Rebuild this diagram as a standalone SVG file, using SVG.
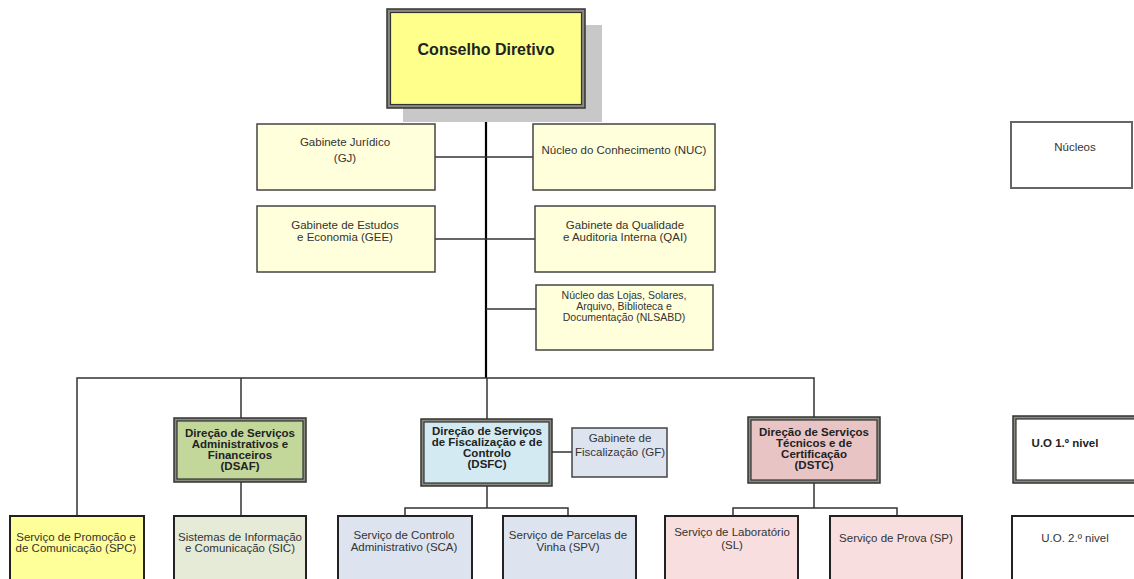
<svg xmlns="http://www.w3.org/2000/svg" width="1134" height="579" viewBox="0 0 1134 579">
<style>
text{font-family:"Liberation Sans",Arial,sans-serif;font-size:11.5px;fill:#333;text-anchor:middle}
.b{font-weight:bold;fill:#222}
.t{font-size:16px}
.s{font-size:10.5px}
.box{stroke:#444;stroke-width:1.5}
.bot{stroke:#222;stroke-width:2}
.outer{fill:#8a8a80;stroke:#333;stroke-width:1.5}
.inner{stroke:#333;stroke-width:1.2}
.ln{stroke:#333;stroke-width:1.5;fill:none}
.main{stroke:#000;stroke-width:2.2;fill:none}
</style>
<rect width="1134" height="579" fill="#fff"/>
<g id="connectors">
<line class="main" x1="486" y1="108" x2="486" y2="378"/>
<line class="ln" x1="435" y1="157" x2="533" y2="157"/>
<line class="ln" x1="435" y1="239" x2="535" y2="239"/>
<line class="ln" x1="486" y1="309" x2="536" y2="309"/>
<polyline class="ln" points="77,516 77,378 814,378 814,417"/>
<line class="ln" x1="241" y1="378" x2="241" y2="418"/>
<line class="ln" x1="241" y1="482" x2="241" y2="516"/>
<line class="ln" x1="487" y1="378" x2="487" y2="419"/>
<line class="ln" x1="552" y1="452" x2="572" y2="452"/>
<polyline class="ln" points="487,486 487,508"/>
<polyline class="ln" points="405,516 405,508 568,508 568,516"/>
<polyline class="ln" points="814,483 814,508"/>
<polyline class="ln" points="733,516 733,508 897,508 897,516"/>
</g>
<g id="cd">
<rect x="403" y="25" width="199" height="97" fill="#c8c8c8"/>
<rect class="outer" x="387" y="9" width="198" height="99" fill="#a09a60"/>
<rect class="inner" x="390.5" y="12.5" width="191" height="92" fill="#ffff8c"/>
<text class="b t" x="486" y="55">Conselho Diretivo</text>
</g>
<g id="gj">
<rect class="box" x="257" y="124" width="178" height="66" fill="#ffffdc"/>
<text x="345" y="146">Gabinete Jurídico</text>
<text x="345" y="162">(GJ)</text>
</g>
<g id="nuc">
<rect class="box" x="533" y="124" width="182" height="66" fill="#ffffdc"/>
<text x="624" y="154">Núcleo do Conhecimento (NUC)</text>
</g>
<g id="gee">
<rect class="box" x="257" y="206" width="178" height="66" fill="#ffffdc"/>
<text x="345" y="229">Gabinete de Estudos</text>
<text x="345" y="241">e Economia (GEE)</text>
</g>
<g id="qai">
<rect class="box" x="535" y="206" width="180" height="66" fill="#ffffdc"/>
<text x="625" y="229">Gabinete da Qualidade</text>
<text x="625" y="241">e Auditoria Interna (QAI)</text>
</g>
<g id="nlsabd">
<rect class="box" x="536" y="285" width="177" height="65" fill="#ffffdc"/>
<text class="s" x="624" y="299">Núcleo das Lojas, Solares,</text>
<text class="s" x="624" y="310">Arquivo, Biblioteca e</text>
<text class="s" x="624" y="321">Documentação (NLSABD)</text>
</g>
<g id="nucleos">
<rect x="1011" y="122" width="121" height="66" fill="#fff" stroke="#666" stroke-width="2"/>
<text x="1075" y="151">Núcleos</text>
</g>
<g id="dsaf">
<rect class="outer" x="174" y="418" width="132" height="64"/>
<rect class="inner" x="177" y="421" width="126" height="58" fill="#c4d79b"/>
<text class="b" x="240" y="437">Direção de Serviços</text>
<text class="b" x="240" y="448">Administrativos e</text>
<text class="b" x="240" y="459">Financeiros</text>
<text class="b" x="240" y="470">(DSAF)</text>
</g>
<g id="dsfc">
<rect class="outer" x="421" y="419" width="131" height="67"/>
<rect class="inner" x="424" y="422" width="125" height="61" fill="#d3eaf2"/>
<text class="b" x="487" y="435">Direção de Serviços</text>
<text class="b" x="487" y="446">de Fiscalização e de</text>
<text class="b" x="487" y="457">Controlo</text>
<text class="b" x="487" y="468">(DSFC)</text>
</g>
<g id="gf">
<rect class="box" x="572" y="428" width="95" height="49" fill="#dde4f0"/>
<text x="620" y="442">Gabinete de</text>
<text x="620" y="456">Fiscalização (GF)</text>
</g>
<g id="dstc">
<rect class="outer" x="748" y="417" width="132" height="66"/>
<rect class="inner" x="751" y="420" width="126" height="60" fill="#e8c4c4"/>
<text class="b" x="814" y="436">Direção de Serviços</text>
<text class="b" x="814" y="447">Técnicos e de</text>
<text class="b" x="814" y="458">Certificação</text>
<text class="b" x="814" y="469">(DSTC)</text>
</g>
<g id="uo1">
<rect class="outer" x="1013" y="416" width="125" height="67"/>
<rect class="inner" x="1016" y="419" width="125" height="61" fill="#fff"/>
<text class="b" x="1065" y="447">U.O 1.º nivel</text>
</g>
<g id="spc">
<rect class="bot" x="10" y="516" width="134" height="80" fill="#ffff99"/>
<text x="76" y="541">Serviço de Promoção e</text>
<text x="76" y="552">de Comunicação (SPC)</text>
</g>
<g id="sic">
<rect class="bot" x="174" y="516" width="132" height="80" fill="#e5ebd7"/>
<text x="240" y="541">Sistemas de Informação</text>
<text x="240" y="552">e Comunicação (SIC)</text>
</g>
<g id="sca">
<rect class="bot" x="338" y="516" width="134" height="80" fill="#dde3ef"/>
<text x="404" y="539">Serviço de Controlo</text>
<text x="404" y="551">Administrativo (SCA)</text>
</g>
<g id="spv">
<rect class="bot" x="503" y="516" width="133" height="80" fill="#dde3ef"/>
<text x="568" y="539">Serviço de Parcelas de</text>
<text x="568" y="551">Vinha (SPV)</text>
</g>
<g id="sl">
<rect class="bot" x="665" y="516" width="133" height="80" fill="#f8dede"/>
<text x="732" y="536">Serviço de Laboratório</text>
<text x="732" y="549">(SL)</text>
</g>
<g id="sp">
<rect class="bot" x="830" y="516" width="132" height="80" fill="#f8dede"/>
<text x="896" y="542">Serviço de Prova (SP)</text>
</g>
<g id="uo2">
<rect class="bot" x="1012" y="516" width="130" height="80" fill="#fff"/>
<text x="1075" y="542">U.O. 2.º nivel</text>
</g>
</svg>
